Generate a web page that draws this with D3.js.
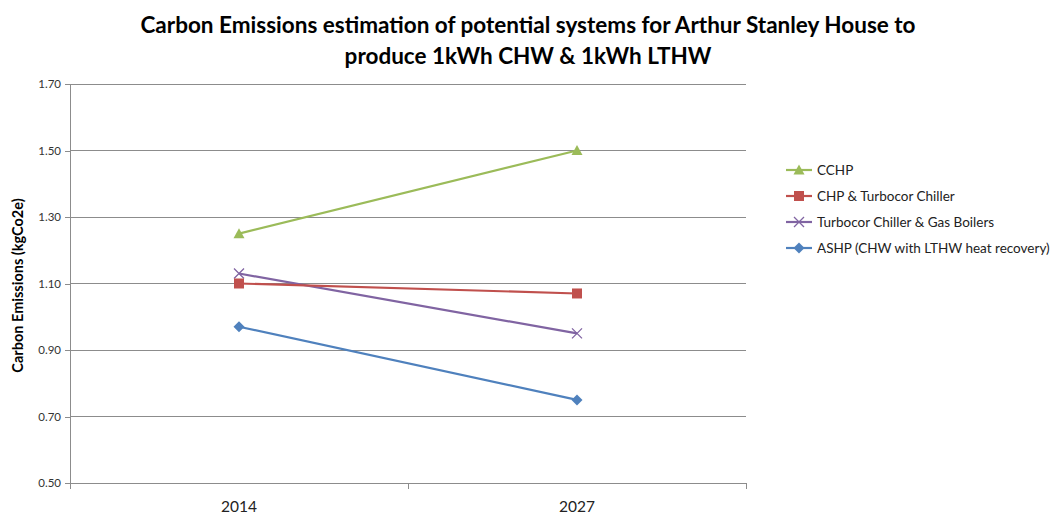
<!DOCTYPE html>
<html>
<head>
<meta charset="utf-8">
<script src="https://cdn.jsdelivr.net/npm/d3@7"></script>
<style>
  html, body { margin: 0; padding: 0; background: #fff; }
  svg { display: block; font-family: "Lato", "Open Sans", sans-serif; }
</style>
</head>
<body>
<svg id="chart" width="1056" height="518"></svg>
<script>
// Categories (years) and yearly emission values per system, kgCO2e
const years = ["2014", "2027"];
const seriesNames = [
  "CCHP",
  "CHP & Turbocor Chiller",
  "Turbocor Chiller & Gas Boilers",
  "ASHP (CHW with LTHW heat recovery)"
];
const cchp = [1.25, 1.50];
const chpTurbocor = [1.10, 1.07];
const turbocorGas = [1.13, 0.95];
const ashp = [0.97, 0.75];
const yTicks = [0.50, 0.70, 0.90, 1.10, 1.30, 1.50, 1.70];

const series = [
  { name: seriesNames[0], values: cchp, color: "#9BBB59", marker: "triangle" },
  { name: seriesNames[1], values: chpTurbocor, color: "#C0504D", marker: "square" },
  { name: seriesNames[2], values: turbocorGas, color: "#8064A2", marker: "cross" },
  { name: seriesNames[3], values: ashp, color: "#4F81BD", marker: "diamond" }
];

const svg = d3.select("#chart");
const plot = { left: 70, right: 746, top: 84, bottom: 483 };

const x = d3.scaleBand().domain(years).range([plot.left, plot.right]);
const y = d3.scaleLinear().domain([0.5, 1.7]).range([plot.bottom, plot.top]);

// Title
const title = svg.append("text")
  .attr("x", 528).attr("text-anchor", "middle")
  .attr("font-weight", "bold").attr("font-size", 22.5).attr("fill", "#000");
title.append("tspan").attr("x", 528).attr("y", 33)
  .text("Carbon Emissions estimation of potential systems for Arthur Stanley House to");
title.append("tspan").attr("x", 528).attr("y", 64)
  .text("produce 1kWh CHW & 1kWh LTHW");

// Horizontal gridlines
svg.append("g").selectAll("line").data(yTicks).join("line")
  .attr("x1", plot.left).attr("x2", plot.right)
  .attr("y1", d => y(d)).attr("y2", d => y(d))
  .attr("stroke", "#8c8c8c").attr("stroke-width", 1)
  .attr("shape-rendering", "crispEdges");

// Y axis
const yAxis = svg.append("g")
  .attr("transform", `translate(${plot.left},0)`)
  .call(d3.axisLeft(y).tickValues(yTicks).tickFormat(d3.format(".2f")).tickSize(5).tickPadding(4));
yAxis.select(".domain").attr("stroke", "#8c8c8c").attr("shape-rendering", "crispEdges");
yAxis.selectAll(".tick line").attr("stroke", "#8c8c8c").attr("shape-rendering", "crispEdges");
yAxis.selectAll(".tick text").attr("font-size", 11.5).attr("fill", "#333").attr("font-family", "Lato, sans-serif");

// X axis
const xAxis = svg.append("g")
  .attr("transform", `translate(0,${plot.bottom})`)
  .call(d3.axisBottom(x).tickSize(0).tickPadding(18));
xAxis.select(".domain").attr("stroke", "#8c8c8c").attr("shape-rendering", "crispEdges");
xAxis.selectAll(".tick text").attr("font-size", 15.5).attr("fill", "#222").attr("font-family", "Lato, sans-serif");
// Category boundary tick marks
const bounds = years.map(d => x(d)).concat([x(years[years.length - 1]) + x.bandwidth()]);
xAxis.append("g").selectAll("line").data(bounds).join("line")
  .attr("x1", d => d).attr("x2", d => d).attr("y1", 0).attr("y2", 6)
  .attr("stroke", "#8c8c8c").attr("shape-rendering", "crispEdges");

// Y axis title
svg.append("text")
  .attr("transform", `translate(23,${(plot.top + plot.bottom) / 2 + 2}) rotate(-90)`)
  .attr("text-anchor", "middle").attr("font-weight", "bold").attr("font-size", 14.5)
  .attr("fill", "#000").text("Carbon Emissions (kgCo2e)");

// Marker shapes
function drawMarker(g, type, color, cx, cy) {
  if (type === "triangle") {
    g.append("path").attr("d", `M${cx},${cy - 5.5}L${cx + 5.5},${cy + 4.5}L${cx - 5.5},${cy + 4.5}Z`).attr("fill", color);
  } else if (type === "square") {
    g.append("rect").attr("x", cx - 5).attr("y", cy - 5).attr("width", 10).attr("height", 10).attr("fill", color);
  } else if (type === "cross") {
    g.append("path").attr("d", `M${cx - 5},${cy - 5}L${cx + 5},${cy + 5}M${cx - 5},${cy + 5}L${cx + 5},${cy - 5}`)
      .attr("stroke", color).attr("stroke-width", 1.3).attr("fill", "none");
  } else if (type === "diamond") {
    g.append("path").attr("d", `M${cx},${cy - 5.5}L${cx + 5.5},${cy}L${cx},${cy + 5.5}L${cx - 5.5},${cy}Z`).attr("fill", color);
  }
}

const line = d3.line()
  .x((d, i) => x(years[i]) + x.bandwidth() / 2)
  .y(d => y(d));

// Series lines and markers
const seriesG = svg.append("g");
series.slice().reverse().forEach(s => {
  const g = seriesG.append("g");
  g.append("path").datum(s.values).attr("d", line)
    .attr("fill", "none").attr("stroke", s.color).attr("stroke-width", 2.2);
  s.values.forEach((v, i) => drawMarker(g, s.marker, s.color, x(years[i]) + x.bandwidth() / 2, y(v)));
});

// Legend
const legend = svg.append("g").attr("transform", "translate(786,170)");
series.forEach((s, i) => {
  const row = legend.append("g").attr("transform", `translate(0,${i * 26})`);
  row.append("line").attr("x1", 0).attr("x2", 26).attr("y1", 0).attr("y2", 0)
    .attr("stroke", s.color).attr("stroke-width", 2.2);
  drawMarker(row, s.marker, s.color, 13, 0);
  row.append("text").attr("x", 31).attr("y", 0).attr("dy", "0.35em")
    .attr("font-size", 13.5).attr("fill", "#222").text(s.name);
});
</script>
</body>
</html>
